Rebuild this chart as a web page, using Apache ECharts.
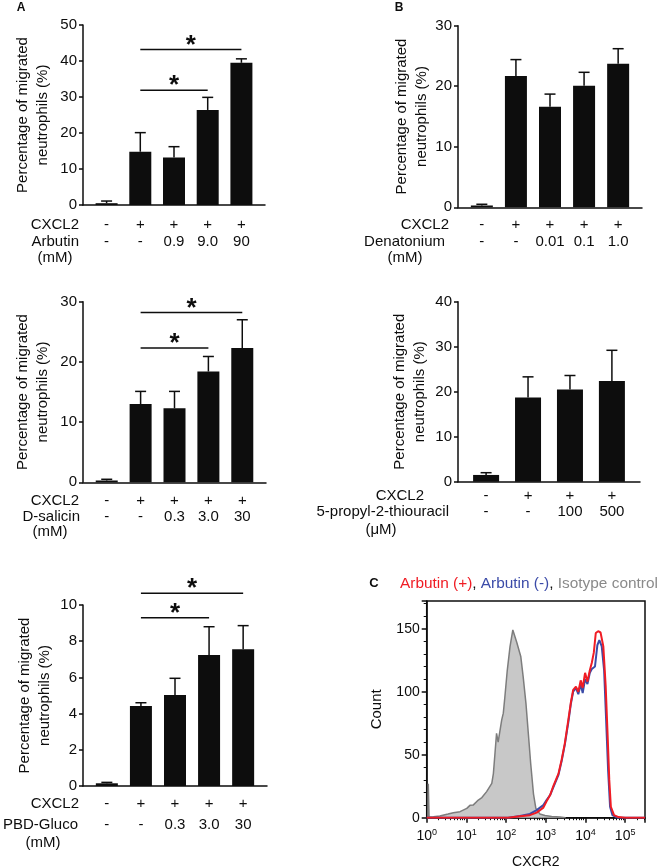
<!DOCTYPE html>
<html><head><meta charset="utf-8">
<script src="https://cdn.jsdelivr.net/npm/echarts@6/dist/echarts.min.js"></script>
<style>html,body{margin:0;padding:0;background:#fff}#c{width:661px;height:868px}</style>
</head><body><div id="c"></div>
<script>
// ---------- DATA ----------
// A (top): Arbutin
const arbCXCL2 = ['-','+','+','+','+'];
const arbDose  = ['-','-','0.9','9.0','90'];
const arbMean  = [0.5, 14.8, 13.2, 26.4, 39.5];
const arbErr   = [0.6, 5.3, 3.0, 3.5, 1.1];
const arbSig   = [[1,3,31.9],[1,4,43.2]];
// B (top): Denatonium
const denCXCL2 = ['-','+','+','+','+'];
const denDose  = ['-','-','0.01','0.1','1.0'];
const denMean  = [0.3, 21.7, 16.6, 20.1, 23.7];
const denErr   = [0.2, 2.7, 2.1, 2.2, 2.5];
const denSig   = [];
// A (middle): D-salicin
const salCXCL2 = ['-','+','+','+','+'];
const salDose  = ['-','-','0.3','3.0','30'];
const salMean  = [0.3, 13.0, 12.3, 18.4, 22.3];
const salErr   = [0.2, 2.1, 2.8, 2.5, 4.7];
const salSig   = [[1,3,22.3],[1,4,28.2]];
// B (middle): 5-propyl-2-thiouracil
const ptuCXCL2 = ['-','+','+','+'];
const ptuDose  = ['-','-','100','500'];
const ptuMean  = [1.5, 18.7, 20.5, 22.4];
const ptuErr   = [0.5, 4.6, 3.1, 6.8];
const ptuSig   = [];
// A (bottom): PBD-Gluco
const pbdCXCL2 = ['-','+','+','+','+'];
const pbdDose  = ['-','-','0.3','3.0','30'];
const pbdMean  = [0.15, 4.42, 5.03, 7.24, 7.55];
const pbdErr   = [0.05, 0.18, 0.92, 1.56, 1.31];
const pbdSig   = [[1,3,9.3],[1,4,10.65]];
// y-axis tick ranges [max, interval]
const yArb = [50,10], yDen = [30,10], ySal = [30,10], yPtu = [40,10], yPbd = [10,2];

// C: CXCR2 histogram, x = log10(intensity), y = count
const histDecades = [0,1,2,3,4,5];
const isoHist = [[0.03,0],[0.04,27],[0.06,0.5],[0.17,0.8],[0.33,1.3],[0.54,2.9],[0.67,4],[0.84,4.8],[1.01,7.4],[1.09,9.8],[1.17,10],[1.3,14],[1.39,16],[1.51,20.7],[1.64,27.3],[1.68,35],[1.72,51],[1.76,67],[1.8,60],[1.85,59],[1.89,77.7],[1.93,83],[1.97,96],[2.03,117],[2.1,136],[2.17,149],[2.22,144],[2.27,139],[2.32,139],[2.37,128],[2.43,112],[2.5,91],[2.56,67],[2.62,43],[2.69,19],[2.75,7.4],[2.85,3],[2.98,1.7],[3.15,1],[3.36,0.5],[3.5,0]];
const arbPlusHist = [[0,0],[2.05,0],[2.1,0.8],[2.35,1.2],[2.6,2],[2.77,4],[2.94,8],[3.02,13],[3.11,18],[3.19,25],[3.32,35],[3.4,46],[3.48,59],[3.57,78],[3.63,91],[3.69,101.5],[3.76,104],[3.82,100],[3.88,109],[3.93,103],[3.99,115],[4.05,108],[4.11,117],[4.16,123],[4.21,131],[4.26,146.6],[4.32,148],[4.38,147],[4.45,136],[4.51,104],[4.56,64],[4.6,30],[4.64,8.7],[4.72,2],[4.83,0.5],[5.0,0],[5.5,0]];
const arbMinusHist = [[0,0],[2.05,0],[2.35,1.3],[2.6,3],[2.77,6],[2.94,10],[3.02,14],[3.11,18],[3.19,24],[3.32,34],[3.4,45],[3.48,58],[3.57,76],[3.63,90],[3.69,100],[3.76,103],[3.82,98],[3.88,106],[3.93,99],[3.99,110],[4.05,106],[4.11,115],[4.16,118],[4.24,120],[4.3,137],[4.35,141],[4.41,136],[4.47,117],[4.52,78],[4.57,38],[4.62,8.7],[4.68,2],[4.8,0],[5.5,0]];

// ---------- BUILD ----------
const FONT = '"Liberation Sans", Arial, sans-serif';
const INK = '#0d0d0d';
const grids = [], xAxes = [], yAxes = [], series = [], graphics = [];

function renderErr(params, api){
  const x = api.value(0), y = api.value(1), t = api.value(2);
  const p0 = api.coord([x,y]), p1 = api.coord([x,t]);
  return {type:'group', children:[
    {type:'line', shape:{x1:p0[0],y1:p0[1],x2:p1[0],y2:p1[1]}, style:{stroke:INK,lineWidth:1.5}},
    {type:'line', shape:{x1:p1[0]-5.5,y1:p1[1],x2:p1[0]+5.5,y2:p1[1]}, style:{stroke:INK,lineWidth:1.5}}
  ]};
}
function renderSig(params, api){
  const a = api.coord([api.value(0), api.value(2)]);
  const b = api.coord([api.value(1), api.value(2)]);
  return {type:'group', children:[
    {type:'line', shape:{x1:a[0],y1:a[1],x2:b[0],y2:b[1]}, style:{stroke:INK,lineWidth:1.5}},
    {type:'text', style:{text:'*', x:(a[0]+b[0])/2, y:a[1]-4, font:'bold 26px '+FONT, textAlign:'center', textVerticalAlign:'middle', fill:INK}}
  ]};
}

function addBarPanel(idx, cfg){
  grids.push({left:cfg.box[0], top:cfg.box[1], width:cfg.box[2], height:cfg.box[3], outerBoundsMode:'none'});
  const n = cfg.mean.length;
  const cats = cfg.mean.map((_,k)=>k);
  xAxes.push({type:'value', gridIndex:idx, min:cfg.xr[0], max:cfg.xr[1],
    axisLine:{show:true, onZero:false, lineStyle:{color:INK, width:1.5}},
    axisTick:{show:false}, splitLine:{show:false},
    axisLabel:{customValues:cats, margin:cfg.lm, color:INK, fontSize:15, fontFamily:FONT, lineHeight:cfg.lh,
      formatter:(v)=>{const k=Math.round(v); if(Math.abs(v-k)>1e-6||k<0||k>=n) return ''; return cfg.cx[k]+'\n'+cfg.dose[k];}}
  });
  yAxes.push({type:'value', gridIndex:idx, min:0, max:cfg.y[0], interval:cfg.y[1],
    axisLine:{show:true, onZero:false, lineStyle:{color:INK, width:1.5}},
    axisTick:{show:true, length:4, lineStyle:{color:INK, width:1.5}},
    splitLine:{show:false},
    axisLabel:{margin:6, color:INK, fontSize:15, fontFamily:FONT},
    name:'Percentage of migrated\nneutrophils (%)', nameLocation:'middle', nameRotate:90, nameGap:cfg.ng,
    nameTextStyle:{color:INK, fontSize:15, fontFamily:FONT, lineHeight:20}
  });
  series.push({type:'bar', xAxisIndex:idx, yAxisIndex:idx, barWidth:cfg.bw,
    data:cfg.mean.map((m,k)=>[k,m]), itemStyle:{color:INK}, silent:true, animation:false});
  series.push({type:'custom', xAxisIndex:idx, yAxisIndex:idx, clip:false, renderItem:renderErr,
    encode:{x:0, y:[1,2]}, data:cfg.mean.map((m,k)=>[k,m,m+cfg.err[k]]), z:3, animation:false});
  if (cfg.sig.length) series.push({type:'custom', xAxisIndex:idx, yAxisIndex:idx, clip:false, renderItem:renderSig,
    encode:{x:[0,1], y:2}, data:cfg.sig, z:4, animation:false});
  cfg.names.forEach(t=>graphics.push({type:'text', x:t[1], y:t[2],
    style:{text:t[0], font:'15px '+FONT, fill:INK, textAlign:t[3], textVerticalAlign:'middle'}}));
}

addBarPanel(0, {box:[83,25,182,180], xr:[-0.7,4.7], y:yArb, mean:arbMean, err:arbErr, sig:arbSig, cx:arbCXCL2, dose:arbDose,
  bw:22, lm:11.5, lh:17, ng:30,
  names:[['CXCL2',79,225,'right'],['Arbutin',79,242,'right'],['(mM)',55,258,'center']]});
addBarPanel(1, {box:[458,25.7,184,181.6], xr:[-0.7,4.7], y:yDen, mean:denMean, err:denErr, sig:denSig, cx:denCXCL2, dose:denDose,
  bw:22, lm:9.4, lh:16.7, ng:26,
  names:[['CXCL2',449,225,'right'],['Denatonium',445,241.7,'right'],['(mM)',405,257.7,'center']]});
addBarPanel(2, {box:[83,301.7,183,180.6], xr:[-0.7,4.7], y:ySal, mean:salMean, err:salErr, sig:salSig, cx:salCXCL2, dose:salDose,
  bw:22, lm:10.4, lh:16, ng:30,
  names:[['CXCL2',79,500.7,'right'],['D-salicin',80,516.7,'right'],['(mM)',50,531.7,'center']]});
addBarPanel(3, {box:[458,301.7,182,180], xr:[-0.67,3.67], y:yPtu, mean:ptuMean, err:ptuErr, sig:ptuSig, cx:ptuCXCL2, dose:ptuDose,
  bw:26, lm:6.5, lh:15.7, ng:28,
  names:[['CXCL2',424,496,'right'],['5-propyl-2-thiouracil',449,511.7,'right'],['(μM)',381,530,'center']]});
addBarPanel(4, {box:[83,605,184,181], xr:[-0.7,4.7], y:yPbd, mean:pbdMean, err:pbdErr, sig:pbdSig, cx:pbdCXCL2, dose:pbdDose,
  bw:22, lm:8, lh:20.7, ng:28,
  names:[['CXCL2',79,804.3,'right'],['PBD-Gluco',78,825,'right'],['(mM)',43,843.3,'center']]});

// Panel C
grids.push({left:426.7, top:601, width:218.3, height:216.7, show:true, borderColor:INK, borderWidth:1.5, backgroundColor:'#fff', outerBoundsMode:'none'});
const minorX = [];
histDecades.forEach(d=>{for(let k=2;k<=9;k++){const v=d+Math.log10(k); if(v<5.5) minorX.push(v);}});
const minorY = [10,20,30,40,60,70,80,90,110,120,130,140,160,170];
xAxes.push({type:'value', gridIndex:5, min:0, max:5.5, interval:1, position:'bottom',
  axisLine:{show:true, onZero:false, lineStyle:{color:INK, width:1.5}},
  axisTick:{show:true, length:5, lineStyle:{color:INK, width:1.5}}, splitLine:{show:false},
  axisLabel:{margin:10, formatter:(v)=>{const k=Math.round(v); if(Math.abs(v-k)>1e-6 || histDecades.indexOf(k)<0) return ''; return '{b|10}{s|'+k+'}';},
    rich:{b:{fontSize:14, fontFamily:FONT, color:INK, lineHeight:16}, s:{fontSize:9, fontFamily:FONT, color:INK, verticalAlign:'top', lineHeight:16}}},
  name:'CXCR2', nameLocation:'middle', nameGap:37, nameTextStyle:{color:INK, fontSize:14, fontFamily:FONT}
});
xAxes.push({type:'value', gridIndex:5, min:0, max:5.5, position:'bottom', axisLine:{show:false, onZero:false},
  axisTick:{show:true, length:2.5, customValues:minorX, lineStyle:{color:INK, width:1}}, axisLabel:{show:false}, splitLine:{show:false}});
yAxes.push({type:'value', gridIndex:5, min:0, max:172, interval:50, position:'left',
  axisLine:{show:true, onZero:false, lineStyle:{color:INK, width:1.5}},
  axisTick:{show:true, length:5, lineStyle:{color:INK, width:1.5}}, splitLine:{show:false},
  axisLabel:{margin:7, color:INK, fontSize:14, fontFamily:FONT, formatter:(v)=> (v%50===0 ? String(v) : '')},
  name:'Count', nameLocation:'middle', nameRotate:90, nameGap:42, nameTextStyle:{color:INK, fontSize:15, fontFamily:FONT}
});
yAxes.push({type:'value', gridIndex:5, min:0, max:172, position:'left', axisLine:{show:false, onZero:false},
  axisTick:{show:true, length:3, customValues:minorY, lineStyle:{color:INK, width:1}}, axisLabel:{show:false}, splitLine:{show:false}});

series.push({type:'line', xAxisIndex:5, yAxisIndex:5, data:isoHist, symbol:'none', showSymbol:false,
  lineStyle:{color:'#7d7d7d', width:1.5}, areaStyle:{color:'#c8c8c8', opacity:1}, animation:false, z:2});
series.push({type:'line', xAxisIndex:5, yAxisIndex:5, data:arbMinusHist, symbol:'none', showSymbol:false,
  lineStyle:{color:'#3b4ba8', width:2}, animation:false, z:3});
series.push({type:'line', xAxisIndex:5, yAxisIndex:5, data:arbPlusHist, symbol:'none', showSymbol:false,
  lineStyle:{color:'#f01c24', width:2}, animation:false, z:4});

// panel letters and legend text
graphics.push({type:'text', x:21, y:8, style:{text:'A', font:'bold 12px '+FONT, fill:INK, textAlign:'center', textVerticalAlign:'middle'}});
graphics.push({type:'text', x:399, y:8, style:{text:'B', font:'bold 12px '+FONT, fill:INK, textAlign:'center', textVerticalAlign:'middle'}});
graphics.push({type:'text', x:374, y:583, style:{text:'C', font:'bold 13px '+FONT, fill:INK, textAlign:'center', textVerticalAlign:'middle'}});
graphics.push({type:'text', x:400, y:583.3, style:{
  text:'{r|Arbutin (+)}{k|, }{bl|Arbutin (-)}{k|, }{g|Isotype control}',
  textVerticalAlign:'middle', textAlign:'left',
  rich:{r:{fill:'#f01c24', font:'15.4px '+FONT}, k:{fill:INK, font:'15.4px '+FONT}, bl:{fill:'#3b4ba8', font:'15.4px '+FONT}, g:{fill:'#8a8a8a', font:'15.4px '+FONT}}
}});

const chart = echarts.init(document.getElementById('c'), null, {renderer:'canvas'});
chart.setOption({animation:false, backgroundColor:'#fff', grid:grids, xAxis:xAxes, yAxis:yAxes, series:series, graphic:{elements:graphics}});
</script></body></html>
